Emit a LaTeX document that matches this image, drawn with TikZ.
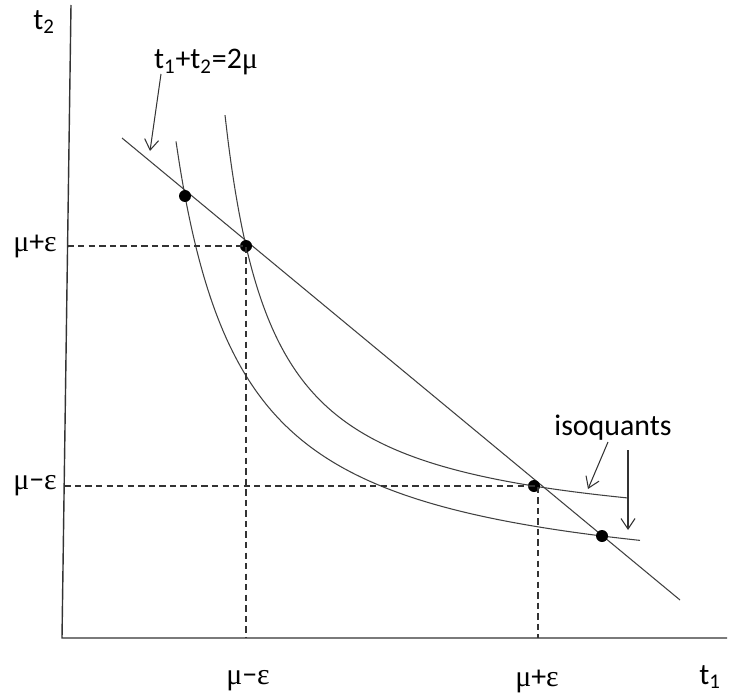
\documentclass[tikz,border=0pt]{standalone}
\usepackage{fontspec}
\setmainfont{Carlito}
\newfontfamily\grk{Liberation Serif}
\usetikzlibrary{arrows.meta}
\tikzset{
  lbl/.style={font=\fontsize{17}{20}\selectfont, inner sep=0pt},
  axisline/.style={line width=0.8pt, black!80},
  curve/.style={line width=0.6pt, black!75},
  guide/.style={line width=0.6pt, black!80, dash pattern=on 3.6pt off 2.4pt},
  pointer/.style={line width=0.6pt, black!80, -{Straight Barb[length=6pt,width=8pt]}},
  dot/.style={circle, fill=black, inner sep=0pt, minimum size=0.24cm}
}
\newcommand{\mygm}{{\grk μ}}
\newcommand{\myge}{{\grk ε}}
\begin{document}
\begin{tikzpicture}[x=0.02cm, y=-0.02cm]
\useasboundingbox (0,0) rectangle (730,696);
% axes
\coordinate (ytop) at (71,5);
\coordinate (origin) at (62,638);
\coordinate (xend) at (727,638);
\draw[axisline] (ytop) -- (origin) -- (xend);
% axis labels
\node[lbl] (t2) at (44,22) {t\textsubscript{2}};
\node[lbl] (t1) at (710,677) {t\textsubscript{1}};
% budget line
\coordinate (L1) at (122,138);
\coordinate (L2) at (680,600);
\draw[curve] (L1) -- (L2);
% isoquants (hyperbolas)
\draw[curve] plot[domain=225:628, samples=120, smooth] (\x, {543.3 - 204.24/((\x - 177.3)/100)});
\coordinate (U2) at (628,498);
\draw[curve] plot[domain=176:640, samples=120, smooth] (\x, {597.3 - 301.78/((\x - 109.8)/100)});
% points
\node[dot] (P1) at (185,196) {};
\node[dot] (P2) at (246,246) {};
\node[dot] (P3) at (534,486) {};
\node[dot] (P4) at (602,536) {};
% dashed guides
\coordinate (yA) at (67.6,246);
\coordinate (yB) at (64.4,486);
\coordinate (xA) at (246,638);
\coordinate (xB) at (538,638);
\coordinate (P3b) at (538,486);
\draw[guide] (yA) -- (P2.center) -- (xA);
\draw[guide] (yB) -- (P3b) -- (xB);
% tick labels
\node[lbl] (muPe) at (35,246) {\mygm+\myge};
\node[lbl] (muMe) at (35,486) {\mygm−\myge};
\node[lbl] (xmuMe) at (248,681) {\mygm−\myge};
\node[lbl] (xmuPe) at (537,681) {\mygm+\myge};
% line label
\node[lbl] (linelbl) at (206,62) {t\textsubscript{1}+t\textsubscript{2}=2\mygm};
\coordinate (a1s) at (161,74);
\coordinate (a1e) at (150,151);
\draw[pointer] (a1s) -- (a1e);
% isoquants label
\node[lbl] (isolbl) at (613,428) {isoquants};
\coordinate (a2s) at (608,442);
\coordinate (a2e) at (588,489);
\draw[pointer] (a2s) -- (a2e);
\coordinate (a3s) at (628,450);
\coordinate (a3e) at (628,530);
\draw[pointer] (a3s) -- (U2) -- (a3e);
\end{tikzpicture}
\end{document}
